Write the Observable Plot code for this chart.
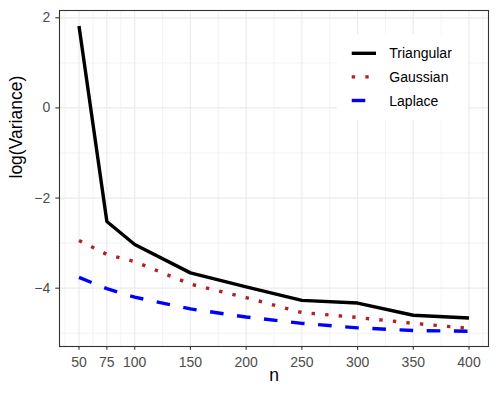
<!DOCTYPE html>
<html><head><meta charset="utf-8">
<script src="https://cdn.jsdelivr.net/npm/d3@7"></script>
<script src="https://cdn.jsdelivr.net/npm/@observablehq/plot@0.6"></script>
<style>
html,body{margin:0;padding:0;background:#fff;}
#wrap{position:relative;width:498px;height:399px;font-family:"Liberation Sans",Arial,Helvetica,sans-serif;}
#legend{position:absolute;left:0;top:0;pointer-events:none;}
</style></head><body><div id="wrap"></div>
<script>
// ---- data ----
const n = [50, 75, 100, 150, 200, 250, 300, 350, 400];
const triangular = [1.82, -2.52, -3.03, -3.66, -3.97, -4.27, -4.33, -4.60, -4.66];
const gaussian   = [-2.94, -3.25, -3.41, -3.91, -4.21, -4.54, -4.65, -4.78, -4.89];
const laplace    = [-3.76, -4.01, -4.20, -4.46, -4.64, -4.78, -4.88, -4.94, -4.955];
const seriesNames = ["Triangular", "Gaussian", "Laplace"];
const seriesColors = ["#000000", "#B22222", "#0000FF"];
const seriesDash = [undefined, "3.4,10.2", "13.6,13.6"];
const xBreaks = [50, 75, 100, 150, 200, 250, 300, 350, 400];
const xMinor = [37.5, 62.5, 87.5, 125, 175, 225, 275, 325, 375, 412.5];
const yBreaks = [-4, -2, 0, 2];
const yMinor = [-5, -3, -1, 1];
const xLabel = "n";
const yLabel = "log(Variance)";

const seriesValues = [triangular, gaussian, laplace];
const rows = seriesNames.flatMap((s, k) => n.map((v, i) => ({n: v, value: seriesValues[k][i], series: s})));

const font = '"Liberation Sans", Arial, Helvetica, sans-serif';

const chart = Plot.plot({
  width: 498, height: 399,
  marginLeft: 59, marginRight: 10, marginTop: 10, marginBottom: 53,
  style: {fontFamily: font, background: "#fff"},
  x: {domain: [32.5, 417.5]},
  y: {domain: [-5.294, 2.162]},
  marks: [
    Plot.ruleX(xMinor, {stroke: "#ebebeb", strokeWidth: 0.6}),
    Plot.ruleY(yMinor, {stroke: "#ebebeb", strokeWidth: 0.6}),
    Plot.ruleX(xBreaks, {stroke: "#ebebeb", strokeWidth: 1.2}),
    Plot.ruleY(yBreaks, {stroke: "#ebebeb", strokeWidth: 1.2}),
    ...seriesNames.map((s, k) => Plot.line(rows.filter(d => d.series === s), {
      x: "n", y: "value", stroke: seriesColors[k], strokeWidth: 3.4,
      strokeDasharray: seriesDash[k], strokeLinecap: "butt", strokeLinejoin: "round"
    })),
    Plot.frame({stroke: "#333333", strokeWidth: 1.1}),
    Plot.axisX({ticks: xBreaks, tickSize: 3.7, tickPadding: 7, stroke: "#333333", strokeWidth: 1.1, fill: "#4d4d4d", fontSize: 14, label: null}),
    Plot.axisY({ticks: yBreaks, tickSize: 3.7, tickPadding: 5.6, stroke: "#333333", strokeWidth: 1.1, fill: "#4d4d4d", fontSize: 14, label: null}),
    Plot.text([xLabel], {frameAnchor: "bottom", dy: 34, fontSize: 17.5, fill: "#000"}),
    Plot.text([yLabel], {frameAnchor: "left", dx: -43, rotate: -90, fontSize: 17.5, fill: "#000"})
  ]
});
const wrap = document.getElementById("wrap");
wrap.appendChild(chart);

// ---- legend overlay ----
const lg = d3.select(wrap).append("svg").attr("id", "legend").attr("width", 498).attr("height", 399);
lg.append("rect").attr("x", 337).attr("y", 34).attr("width", 131).attr("height", 86).attr("fill", "#fff");
const rowY = [53.3, 76.9, 100.5];
seriesNames.forEach((s, k) => {
  lg.append("line").attr("x1", 351.7).attr("x2", 376).attr("y1", rowY[k]).attr("y2", rowY[k])
    .attr("stroke", seriesColors[k]).attr("stroke-width", 3.4)
    .attr("stroke-dasharray", seriesDash[k] || null).attr("stroke-linecap", "butt");
  lg.append("text").attr("x", 389.3).attr("y", rowY[k]).attr("dy", "0.36em")
    .attr("font-size", 14).attr("font-family", font).attr("fill", "#000").text(s);
});
</script></body></html>
